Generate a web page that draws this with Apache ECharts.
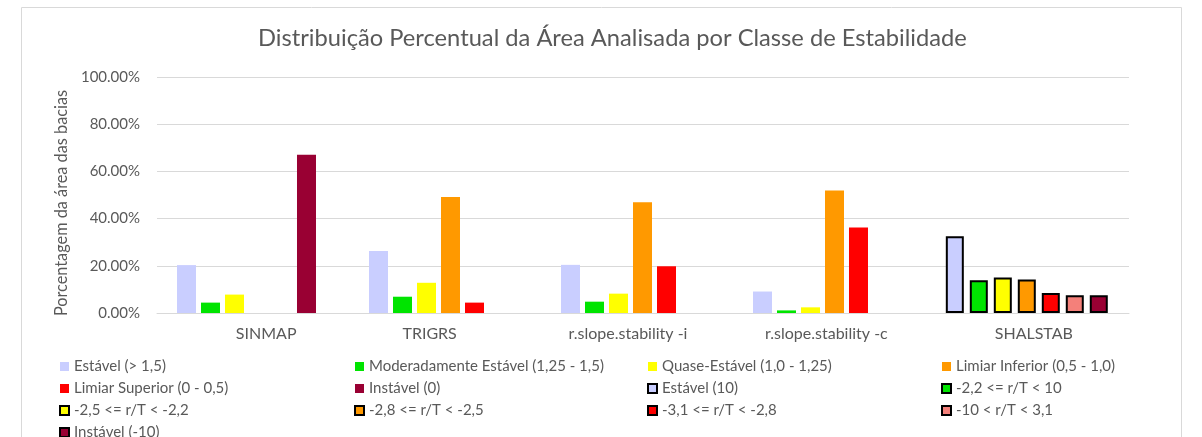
<!DOCTYPE html>
<html>
<head>
<meta charset="utf-8">
<script src="https://cdn.jsdelivr.net/npm/echarts@6/dist/echarts.min.js"></script>
<style>
  html, body { margin: 0; padding: 0; background: #fff; }
  #chart { width: 1202px; height: 437px; }
</style>
</head>
<body>
<div id="chart"></div>
<script>
// categorias do eixo x
var categories = ['SINMAP', 'TRIGRS', 'r.slope.stability -i', 'r.slope.stability -c', 'SHALSTAB'];

// classes dos modelos SINMAP / TRIGRS / r.slope.stability (%)
var estavel      = [20.3, 26.3, 20.4, 9.1, null];
var modEstavel   = [4.4, 6.9, 4.8, 1.1, null];
var quaseEstavel = [7.8, 12.8, 8.2, 2.4, null];
var limiarInf    = [null, 49.2, 46.9, 51.9, null];
var limiarSup    = [null, 4.4, 19.8, 36.2, null];
var instavel     = [67.1, null, null, null, null];

// classes do SHALSTAB (%)
var shEstavel  = [null, null, null, null, 32.5];
var sh22       = [null, null, null, null, 13.9];
var sh25       = [null, null, null, null, 15.0];
var sh28       = [null, null, null, null, 14.2];
var sh31       = [null, null, null, null, 8.5];
var sh10       = [null, null, null, null, 7.5];
var shInstavel = [null, null, null, null, 7.5];

var yTicks = [0, 20, 40, 60, 80, 100];

var font = 'Lato';
var grey = '#595959';

function plain(name, data, color) {
  return {
    name: name, type: 'bar', data: data,
    xAxisIndex: 1, yAxisIndex: 1,
    barWidth: 19, barGap: '26.3%',
    itemStyle: { color: color },
    emphasis: { disabled: true }
  };
}
function boxed(name, data, color) {
  return {
    name: name, type: 'bar', data: data,
    xAxisIndex: 2, yAxisIndex: 2,
    barWidth: 18, barGap: '33.3%',
    itemStyle: { color: color, borderColor: '#000', borderWidth: 2 },
    emphasis: { disabled: true }
  };
}

var series = [
  plain('Estável (> 1,5)', estavel, '#C9CEFF'),
  plain('Moderadamente Estável (1,25 - 1,5)', modEstavel, '#00E400'),
  plain('Quase-Estável (1,0 - 1,25)', quaseEstavel, '#FFFF00'),
  plain('Limiar Inferior (0,5 - 1,0)', limiarInf, '#FF9900'),
  plain('Limiar Superior (0 - 0,5)', limiarSup, '#FF0000'),
  plain('Instável (0)', instavel, '#990033'),
  boxed('Estável (10)', shEstavel, '#C9CEFF'),
  boxed('-2,2 <= r/T < 10', sh22, '#00E400'),
  boxed('-2,5 <= r/T < -2,2', sh25, '#FFFF00'),
  boxed('-2,8 <= r/T < -2,5', sh28, '#FF9900'),
  boxed('-3,1 <= r/T < -2,8', sh31, '#FF0000'),
  boxed('-10 < r/T < 3,1', sh10, '#F4807A'),
  boxed('Instável (-10)', shInstavel, '#990033')
];
var names = series.map(function (s) { return s.name; });

// deslocamento dos rótulos do eixo x (como no Excel original)
var shift = [12, -19, -15, -11, 2];
var rich = {};
shift.forEach(function (s, i) {
  rich['c' + i] = {
    fontFamily: font, fontSize: 16, color: grey,
    padding: s > 0 ? [0, 0, 0, 2 * s] : [0, -2 * s, 0, 0]
  };
});

function legendCol(x, idx) {
  return {
    orient: 'vertical', left: x, top: 359, height: 100, padding: 0,
    data: idx.map(function (i) { return names[i]; }),
    icon: 'rect', itemWidth: 9, itemHeight: 9, itemGap: 7,
    selectedMode: false,
    textStyle: { fontFamily: font, fontSize: 15, color: grey, lineHeight: 15 }
  };
}

var hiddenX = { type: 'category', data: categories, show: false };
var hiddenY = { type: 'value', min: 0, max: 100, show: false };

var option = {
  animation: false,
  title: {
    text: 'Distribuição Percentual da Área Analisada por Classe de Estabilidade',
    left: 258, top: 26, padding: 0,
    textStyle: { fontFamily: font, fontSize: 23.7, fontWeight: 'normal', color: grey }
  },
  graphic: [{
    type: 'rect', shape: { x: 21.5, y: 7.5, width: 1160, height: 450 },
    style: { fill: 'none', stroke: '#D9D9D9', lineWidth: 1 }, silent: true
  }],
  legend: [
    legendCol(59, [0, 4, 8, 12]),
    legendCol(354, [1, 5, 9]),
    legendCol(647, [2, 6, 10]),
    legendCol(941, [3, 7, 11])
  ],
  grid: [
    { left: 157, width: 972, top: 77, bottom: 124 },
    { left: 150.5, width: 960, top: 77, bottom: 124 },
    { left: 152, width: 972, top: 77, bottom: 124 }
  ],
  xAxis: [
    {
      type: 'category', data: categories, gridIndex: 0,
      axisLine: { lineStyle: { color: '#D9D9D9', width: 1 } },
      axisTick: { show: false },
      axisLabel: {
        margin: 13, interval: 0,
        formatter: function (v, i) { return '{c' + i + '|' + v + '}'; },
        rich: rich
      }
    },
    Object.assign({ gridIndex: 1 }, hiddenX),
    Object.assign({ gridIndex: 2 }, hiddenX)
  ],
  yAxis: [
    {
      type: 'value', gridIndex: 0, min: yTicks[0], max: yTicks[yTicks.length - 1], interval: 20,
      name: 'Porcentagem da área das bacias', nameLocation: 'middle', nameGap: 79,
      nameTextStyle: { fontFamily: font, fontSize: 16.3, color: grey, padding: [0, 16, 0, 0] },
      axisLine: { show: false }, axisTick: { show: false },
      axisLabel: {
        margin: 17, fontFamily: font, fontSize: 15, color: grey,
        formatter: function (v) { return v.toFixed(2) + '%'; }
      },
      splitLine: { lineStyle: { color: '#D9D9D9', width: 1 } }
    },
    Object.assign({ gridIndex: 1 }, hiddenY),
    Object.assign({ gridIndex: 2 }, hiddenY)
  ],
  series: series
};

var chart = echarts.init(document.getElementById('chart'));
chart.setOption(option);
</script>
</body>
</html>
